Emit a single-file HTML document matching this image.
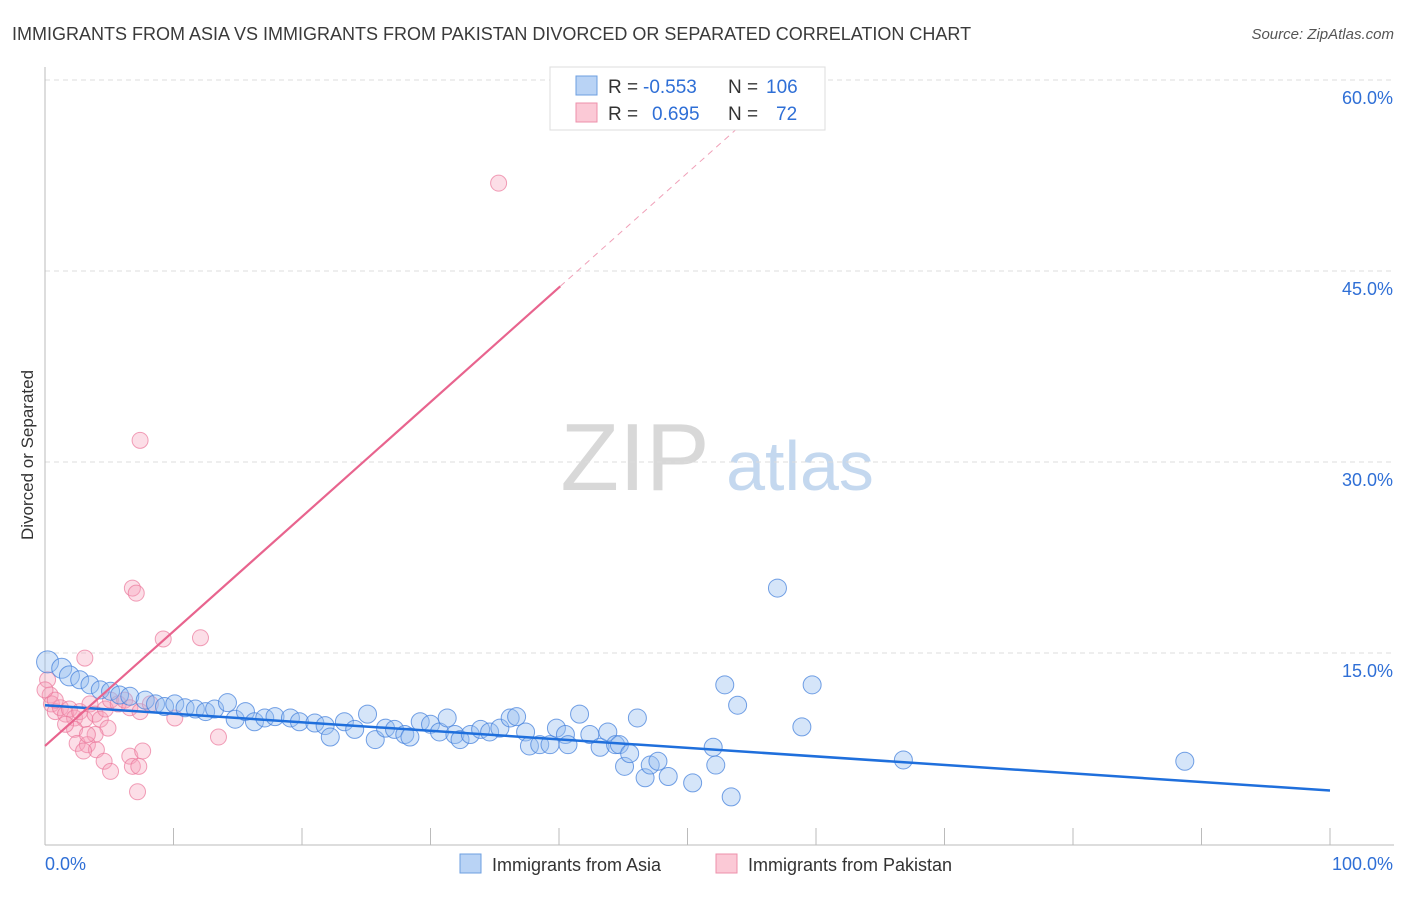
<!DOCTYPE html>
<html><head><meta charset="utf-8"><style>
body{margin:0;background:#fff;font-family:"Liberation Sans",sans-serif}
svg text{font-family:"Liberation Sans",sans-serif}
</style></head><body>
<svg id="chart" width="1406" height="892" viewBox="0 0 1406 892" xmlns="http://www.w3.org/2000/svg">
<text x="12" y="40" font-size="18" fill="#3a3a3a">IMMIGRANTS FROM ASIA VS IMMIGRANTS FROM PAKISTAN DIVORCED OR SEPARATED CORRELATION CHART</text>
<text x="1394" y="39" font-size="15" fill="#555" text-anchor="end" font-style="italic">Source: ZipAtlas.com</text>
<text transform="translate(33,455) rotate(-90)" font-size="17" fill="#333" text-anchor="middle">Divorced or Separated</text>
<g>
<text x="635" y="490" font-size="96" fill="#d8d8d8" text-anchor="middle" font-family="Liberation Serif">ZIP</text>
<text x="800" y="490" font-size="70" fill="#c4d8ef" text-anchor="middle">atlas</text>
</g>
<g id="grid"></g>
<g id="axes"></g>
<g id="pts"></g>
<g id="lines"></g>
<g>
<rect x="550" y="67" width="275" height="63" fill="#fff" stroke="#ddd"/>
<rect x="576" y="76" width="21" height="19" fill="#b9d3f5" stroke="#6d9fe0"/>
<rect x="576" y="103" width="21" height="19" fill="#fbc9d6" stroke="#ee90ab"/>
<text x="608" y="93" font-size="19" fill="#333">R = </text><text x="643" y="93" font-size="19" fill="#2f6fd6">-0.553</text>
<text x="728" y="93" font-size="19" fill="#333">N = </text><text x="766" y="93" font-size="19" fill="#2f6fd6">106</text>
<text x="608" y="120" font-size="19" fill="#333">R = </text><text x="652" y="120" font-size="19" fill="#2f6fd6">0.695</text>
<text x="728" y="120" font-size="19" fill="#333">N = </text><text x="776" y="120" font-size="19" fill="#2f6fd6">72</text>
</g>
<g>
<rect x="460" y="854" width="21" height="19" fill="#b9d3f5" stroke="#6d9fe0"/>
<text x="492" y="871" font-size="18" fill="#333">Immigrants from Asia</text>
<rect x="716" y="854" width="21" height="19" fill="#fbc9d6" stroke="#ee90ab"/>
<text x="748" y="871" font-size="18" fill="#333">Immigrants from Pakistan</text>
</g>
</svg>
<script>
const yTicks=[15,30,45,60];
const xTickLabels=["0.0%","100.0%"];
const asiaX=[0.2,1.3,1.9,2.7,3.5,4.3,5.1,5.8,6.6,7.8,8.6,9.3,10.1,10.9,11.7,12.5,13.2,14.2,14.8,15.6,16.3,17.1,17.9,19.1,19.8,21.0,21.8,22.2,23.3,24.1,25.1,25.7,26.5,27.2,28.0,28.4,29.2,30.0,30.7,31.3,31.9,32.3,33.1,33.9,34.6,35.4,36.2,36.7,37.4,37.7,38.5,39.3,39.8,40.5,40.7,41.6,42.4,43.2,43.8,44.4,44.7,45.1,45.5,46.1,46.7,47.1,47.7,48.5,50.4,52.0,52.2,52.9,53.4,53.9,57.0,58.9,59.7,66.8,88.7];
const asiaY=[14.3,13.8,13.2,12.9,12.5,12.1,12.0,11.7,11.6,11.3,11.0,10.8,11.0,10.7,10.6,10.4,10.6,11.1,9.8,10.4,9.6,9.9,10.0,9.9,9.6,9.5,9.3,8.4,9.6,9.0,10.2,8.2,9.1,9.0,8.6,8.4,9.6,9.4,8.8,9.9,8.6,8.2,8.6,9.0,8.8,9.1,9.9,10.0,8.8,7.7,7.8,7.8,9.1,8.6,7.8,10.2,8.6,7.6,8.8,7.8,7.8,6.1,7.1,9.9,5.2,6.2,6.5,5.3,4.8,7.6,6.2,12.5,3.7,10.9,20.1,9.2,12.5,6.6,6.5];
const pakX=[7.4,35.3,6.8,7.1,9.2,12.1,3.1,0.2,0.4,0.5,0.8,1.2,1.6,1.9,2.3,2.7,3.1,3.5,3.9,4.3,4.7,5.1,5.7,6.2,6.6,7.4,8.2,4.9,2.3,1.6,3.9,2.5,3.3,3.3,4.0,3.0,4.6,5.1,6.6,7.6,6.8,7.3,7.2,13.5,10.1,0.8,0.0];
const pakY=[31.7,51.9,20.1,19.7,16.1,16.2,14.6,12.9,11.7,11.0,10.4,10.7,10.2,10.6,9.9,10.4,9.8,11.0,10.2,9.8,10.6,11.3,11.0,11.3,10.7,10.4,11.0,9.1,9.0,9.4,8.6,7.9,7.8,8.6,7.4,7.3,6.5,5.7,6.9,7.3,6.1,6.1,4.1,8.4,9.9,11.3,12.1];
const asiaTrend=[10.9,4.2];
const pakTrend=[7.7,43.8];
const NS="http://www.w3.org/2000/svg";
const X0=45,X1=1330,Y0=844,PY=12.733;
const sx=v=>X0+(X1-X0)*v/100, sy=v=>Y0-v*PY;
function mk(t,a,p){const e=document.createElementNS(NS,t);for(const k in a)e.setAttribute(k,a[k]);document.getElementById(p).appendChild(e);return e;}
yTicks.forEach(t=>{
 const l=mk('line',{x1:X0,x2:1394,y1:sy(t),y2:sy(t),stroke:'#ddd','stroke-dasharray':'5,4'},'grid');
 
 
 const tx=mk('text',{x:1393,y:sy(t)+24,'font-size':18,fill:'#2f6fd6','text-anchor':'end'},'grid');
 tx.textContent=t.toFixed(1)+'%';
 
 
});
const ax=mk('line',{x1:X0,x2:X0,y1:67,y2:845,stroke:'#bbb'},'axes');


const bx=mk('line',{x1:X0,x2:1394,y1:845,y2:845,stroke:'#bbb'},'axes');


for(let i=1;i<=10;i++){const t=mk('line',{x1:sx(i*10),x2:sx(i*10),y1:828,y2:845,stroke:'#bbb'},'axes');
 
 }
[[0,'start',45],[100,'end',1393]].forEach((d,i)=>{const t=mk('text',{x:d[2],y:870,'font-size':18,fill:'#2f6fd6','text-anchor':d[1]},'axes');t.textContent=xTickLabels[i];
 
 });
pakX.forEach((x,i)=>{const c=mk('circle',{cx:sx(x),cy:sy(pakY[i]),r:8,fill:'rgba(246,160,185,0.35)',stroke:'rgba(235,120,155,0.7)','stroke-width':1},'pts');
 
 });
asiaX.forEach((x,i)=>{const c=mk('circle',{cx:sx(x),cy:sy(asiaY[i]),r:i==0?11:(i<3?10:9),fill:'rgba(150,190,240,0.4)',stroke:'rgba(70,130,220,0.75)','stroke-width':1},'pts');
 
 });
const bl=mk('line',{x1:sx(0),y1:sy(asiaTrend[0]),x2:sx(100),y2:sy(asiaTrend[1]),stroke:'#1f6fdc','stroke-width':2.5},'lines');


const slope=(pakTrend[1]-pakTrend[0])/40.1;
const pl=mk('line',{x1:sx(0),y1:sy(pakTrend[0]),x2:sx(40.1),y2:sy(pakTrend[1]),stroke:'#e8648e','stroke-width':2.2},'lines');


const xe=(58.5-pakTrend[0])/slope;
const pd=mk('line',{x1:sx(40.1),y1:sy(pakTrend[1]),x2:sx(xe),y2:sy(58.5),stroke:'#f0a0b8','stroke-width':1,'stroke-dasharray':'6,5'},'lines');


</script>
</body></html>
